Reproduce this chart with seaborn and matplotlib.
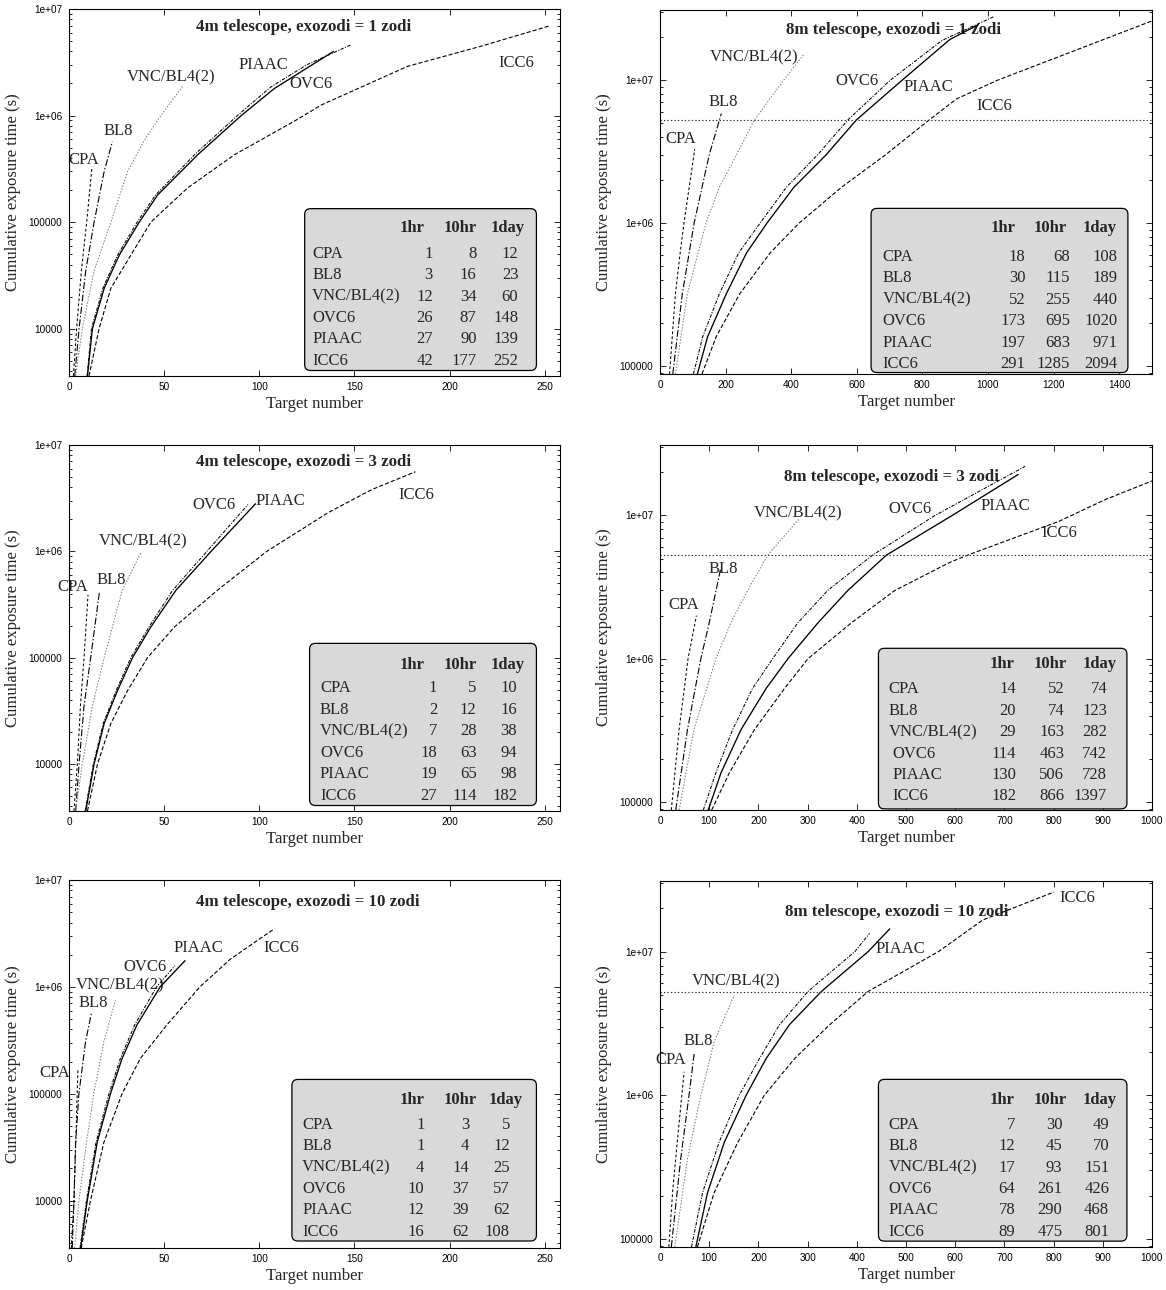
import matplotlib
matplotlib.use("Agg")
import matplotlib.pyplot as plt
from matplotlib.patches import FancyBboxPatch
from matplotlib.ticker import FixedLocator, LogLocator, NullFormatter, FuncFormatter
import seaborn as sns

methods = ["CPA", "BL8", "VNC/BL4(2)", "OVC6", "PIAAC", "ICC6"]
columns = ["1hr", "10hr", "1day"]

# cumulative exposure time (s) against target number
curves_4m_1 = {
    "CPA": ([2.3, 4.0, 6.5, 9.3, 12], [3.6e3, 1e4, 3.5e4, 1e5, 3.2e5]),
    "BL8": ([3, 5.3, 8.8, 13.2, 18.5, 22.8], [3.6e3, 1e4, 3.5e4, 1e5, 3.0e5, 5.7e5]),
    "VNC/BL4(2)": ([3.5, 7, 13.2, 22, 30.8, 40.4, 48.3, 59.8], [3.6e3, 1e4, 3.5e4, 1e5, 3.0e5, 6.2e5, 1e6, 1.89e6]),
    "OVC6": ([9.5, 11.8, 17.8, 25.5, 35.8, 45.5, 66, 88.5, 106, 125, 148], [3.6e3, 1e4, 2.4e4, 4.9e4, 1e5, 1.8e5, 4.3e5, 1e6, 1.85e6, 3.0e6, 4.6e6]),
    "PIAAC": ([9.7, 12.3, 18.5, 26.4, 36.9, 46.6, 67.7, 90.5, 108, 139], [3.6e3, 1e4, 2.4e4, 4.9e4, 1e5, 1.8e5, 4.3e5, 1e6, 1.8e6, 4.0e6]),
    "ICC6": ([10.5, 15.8, 22, 32.5, 43, 62.4, 87, 118.6, 132.7, 178, 217, 252], [3.6e3, 1e4, 2.4e4, 4.9e4, 1e5, 2.1e5, 4.3e5, 8.9e5, 1.26e6, 2.9e6, 4.5e6, 6.9e6]),
}
curves_8m_1 = {
    "CPA": ([29, 47, 60, 73, 106], [8.8e4, 3.2e5, 5.8e5, 1e6, 3.3e6]),
    "BL8": ([39, 68, 104, 150, 187], [8.8e4, 3.2e5, 1e6, 3.0e6, 5.85e6]),
    "VNC/BL4(2)": ([47, 83.5, 140, 181, 233, 288, 377, 440], [8.8e4, 3.2e5, 1e6, 1.78e6, 3.0e6, 5.28e6, 1e7, 1.53e7]),
    "OVC6": ([102, 130, 181, 240, 305, 385, 480, 573, 702, 860, 1020], [8.8e4, 1.6e5, 3.2e5, 6.2e5, 1e6, 1.78e6, 3.0e6, 5.28e6, 1e7, 1.9e7, 2.8e7]),
    "PIAAC": ([114, 145, 202, 264, 326, 408, 506, 599, 738, 884, 971], [8.8e4, 1.6e5, 3.2e5, 6.2e5, 1e6, 1.78e6, 3.0e6, 5.28e6, 1e7, 1.93e7, 2.45e7]),
    "ICC6": ([128, 171, 243, 336, 424, 553, 687, 821, 904, 1029, 1267, 1500], [8.8e4, 1.6e5, 3.2e5, 6.2e5, 1e6, 1.78e6, 3.0e6, 5.28e6, 7.4e6, 1e7, 1.62e7, 2.6e7]),
}
curves_4m_3 = {
    "CPA": ([2.6, 4.4, 6, 7.9, 10], [3.6e3, 1e4, 3.5e4, 1e5, 3.9e5]),
    "BL8": ([3.5, 5.3, 7.9, 11.4, 16], [3.6e3, 1e4, 3.5e4, 1e5, 4.15e5]),
    "VNC/BL4(2)": ([3.5, 7, 12.3, 18.5, 22.8, 28, 38], [3.6e3, 1e4, 3.5e4, 1e5, 1.94e5, 4.3e5, 9.9e5]),
    "OVC6": ([8.5, 12.8, 18, 24.8, 32.5, 42, 54.5, 72.5, 94], [3.6e3, 1e4, 2.4e4, 4.9e4, 1e5, 1.94e5, 4.3e5, 1e6, 2.75e6]),
    "PIAAC": ([8.8, 13.2, 18.5, 25.5, 33.4, 43, 56.2, 74.7, 98], [3.6e3, 1e4, 2.4e4, 4.9e4, 1e5, 1.94e5, 4.3e5, 1e6, 2.8e6]),
    "ICC6": ([9.7, 15, 22, 30.8, 41.3, 55.4, 78, 104, 136, 159, 182], [3.6e3, 1e4, 2.4e4, 4.9e4, 1e5, 1.94e5, 4.3e5, 1e6, 2.3e6, 3.8e6, 5.6e6]),
}
curves_8m_3 = {
    "CPA": ([23, 38.8, 57, 74], [8.8e4, 3.2e5, 1e6, 2.0e6]),
    "BL8": ([32, 55.8, 83, 100, 123], [8.8e4, 3.2e5, 1e6, 1.78e6, 4.2e6]),
    "VNC/BL4(2)": ([39, 69, 113.6, 144, 178, 219, 282], [8.8e4, 3.2e5, 1e6, 1.78e6, 3.0e6, 5.28e6, 9.4e6]),
    "OVC6": ([88, 113.6, 147.6, 188, 229, 280, 341, 432, 559, 742], [8.8e4, 1.6e5, 3.2e5, 6.2e5, 1e6, 1.78e6, 3.0e6, 5.28e6, 1e7, 2.2e7]),
    "PIAAC": ([98, 124, 164.6, 215.6, 260, 321, 382, 460, 594, 728], [8.8e4, 1.6e5, 3.2e5, 6.2e5, 1e6, 1.78e6, 3.0e6, 5.28e6, 1e7, 1.93e7]),
    "ICC6": ([105, 141, 192, 253, 300.7, 389, 477.6, 589, 625, 811, 905, 1000], [8.8e4, 1.6e5, 3.2e5, 6.2e5, 1e6, 1.78e6, 3.0e6, 4.7e6, 5.28e6, 9.1e6, 1.29e7, 1.74e7]),
}
curves_4m_10 = {
    "CPA": ([1.2, 2.6, 3.8, 4.7], [3.6e3, 1e4, 5e4, 1.7e5]),
    "BL8": ([1.7, 2.6, 3.5, 5.2, 8.7, 11.8], [3.6e3, 1e4, 3.5e4, 1e5, 3.07e5, 5.7e5]),
    "VNC/BL4(2)": ([3, 5.2, 9.2, 13, 18.3, 24.4], [3.6e3, 1e4, 3.5e4, 1e5, 3.07e5, 7.5e5]),
    "OVC6": ([5.8, 9.2, 14.2, 21, 27, 34.5, 46, 55.7], [3.6e3, 1e4, 3.5e4, 1e5, 2.14e5, 4.4e5, 1e6, 1.58e6]),
    "PIAAC": ([6.1, 9.6, 14.8, 21.8, 27.9, 35.7, 47.9, 61], [3.6e3, 1e4, 3.5e4, 1e5, 2.14e5, 4.4e5, 1e6, 1.76e6]),
    "ICC6": ([6.4, 11.3, 18.3, 27.9, 37.5, 51.4, 68.8, 84.5, 100, 108], [3.6e3, 1e4, 3.5e4, 1e5, 2.14e5, 4.4e5, 1e6, 1.8e6, 2.8e6, 3.5e6]),
}
curves_8m_10 = {
    "CPA": ([18, 26, 35, 49], [8.8e4, 2.2e5, 4.7e5, 1.46e6]),
    "BL8": ([23, 42, 59, 69.4], [8.8e4, 3.6e5, 1e6, 1.95e6]),
    "VNC/BL4(2)": ([30, 55.8, 83, 110, 151], [8.8e4, 3.6e5, 1e6, 2.35e6, 5.0e6]),
    "OVC6": ([64, 86.4, 120, 161, 202, 243, 300.7, 396, 426], [8.8e4, 2.1e5, 4.7e5, 1e6, 1.8e6, 3.1e6, 5.28e6, 1e7, 1.34e7]),
    "PIAAC": ([72.8, 96.6, 130.6, 175, 215.6, 263, 328, 423, 467], [8.8e4, 2.1e5, 4.7e5, 1e6, 1.8e6, 3.1e6, 5.28e6, 1e7, 1.44e7]),
    "ICC6": ([76, 110, 158, 212, 273.5, 345, 423, 566, 656, 801], [8.8e4, 2.1e5, 4.7e5, 1e6, 1.8e6, 3.1e6, 5.28e6, 1e7, 1.66e7, 2.6e7]),
}

# number of targets reachable within 1hr / 10hr / 1day
table_4m_1 = [[1, 8, 12], [3, 16, 23], [12, 34, 60], [26, 87, 148], [27, 90, 139], [42, 177, 252]]
table_8m_1 = [[18, 68, 108], [30, 115, 189], [52, 255, 440], [173, 695, 1020], [197, 683, 971], [291, 1285, 2094]]
table_4m_3 = [[1, 5, 10], [2, 12, 16], [7, 28, 38], [18, 63, 94], [19, 65, 98], [27, 114, 182]]
table_8m_3 = [[14, 52, 74], [20, 74, 123], [29, 163, 282], [114, 463, 742], [130, 506, 728], [182, 866, 1397]]
table_4m_10 = [[1, 3, 5], [1, 4, 12], [4, 14, 25], [10, 37, 57], [12, 39, 62], [16, 62, 108]]
table_8m_10 = [[7, 30, 49], [12, 45, 70], [17, 93, 151], [64, 261, 426], [78, 290, 468], [89, 475, 801]]

# curve name labels (data coordinates)
labels_4m_1 = {"CPA": (8, 3.8e5), "BL8": (26, 7.2e5), "VNC/BL4(2)": (53.7, 2.28e6),
               "PIAAC": (102, 2.98e6), "OVC6": (127, 1.98e6), "ICC6": (235, 3.1e6)}
labels_8m_1 = {"CPA": (64.7, 3.9e6), "BL8": (192, 7.07e6), "VNC/BL4(2)": (286, 1.44e7),
               "OVC6": (601, 9.8e6), "PIAAC": (819, 8.9e6), "ICC6": (1018, 6.6e6)}
labels_4m_3 = {"CPA": (2, 4.6e5), "BL8": (22, 5.4e5), "VNC/BL4(2)": (38.8, 1.24e6),
               "OVC6": (76, 2.7e6), "PIAAC": (111, 3.0e6), "ICC6": (182.5, 3.4e6)}
labels_8m_3 = {"CPA": (49, 2.37e6), "BL8": (128.6, 4.2e6), "VNC/BL4(2)": (281, 1.04e7),
               "OVC6": (508, 1.1e7), "PIAAC": (701, 1.17e7), "ICC6": (811, 7.5e6)}
labels_4m_10 = {"CPA": (-7.6, 1.55e5), "BL8": (12.7, 7.1e5), "VNC/BL4(2)": (27, 1.04e6),
                "OVC6": (39.8, 1.55e6), "PIAAC": (68.2, 2.3e6), "ICC6": (111.8, 2.3e6)}
labels_8m_10 = {"CPA": (22, 1.77e6), "BL8": (77, 2.37e6), "VNC/BL4(2)": (155, 6.25e6),
                "PIAAC": (488, 1.05e7), "ICC6": (849, 2.37e7)}

two_months = 5.26e6

styles = {
    "CPA": dict(color="black", lw=0.75, dashes=(2.0, 1.6)),
    "BL8": dict(color="black", lw=0.8, dashes=(5, 1.5, 1, 1.5)),
    "VNC/BL4(2)": dict(color="#7a7a7a", lw=0.75, dashes=(1, 1.2)),
    "OVC6": dict(color="black", lw=0.75, dashes=(2.5, 1, 0.8, 1)),
    "PIAAC": dict(color="black", lw=0.95, dashes=None),
    "ICC6": dict(color="black", lw=0.8, dashes=(3, 1.5)),
}

panels = [
    dict(curves=curves_4m_1, table=table_4m_1, labels=labels_4m_1, title="4m telescope, exozodi = 1 zodi",
         rect=(69, 9, 560, 376), xlim=(0, 258), ylim=(3600, 1e7), xstep=50, hline=False,
         tpos=(0.478, 0.952), box=(0.48, 0.015, 0.952, 0.456), head_y=0.402, row_y=0.332, step=0.058,
         name_x=0.495, head_x=(0.699, 0.796, 0.894), num_r=(0.741, 0.83, 0.915), indent=0),
    dict(curves=curves_8m_1, table=table_8m_1, labels=labels_8m_1, title="8m telescope, exozodi = 1 zodi",
         rect=(660, 10, 1152, 374), xlim=(0, 1500), ylim=(8.8e4, 3.1e7), xstep=200, hline=True,
         tpos=(0.474, 0.945), box=(0.429, 0.004, 0.951, 0.455), head_y=0.40, row_y=0.322, step=0.059,
         name_x=0.452, head_x=(0.697, 0.794, 0.893), num_r=(0.743, 0.834, 0.930), indent=0),
    dict(curves=curves_4m_3, table=table_4m_3, labels=labels_4m_3, title="4m telescope, exozodi = 3 zodi",
         rect=(69, 445, 560, 811), xlim=(0, 258), ylim=(3600, 1e7), xstep=50, hline=False,
         tpos=(0.478, 0.953), box=(0.49, 0.015, 0.952, 0.458), head_y=0.40, row_y=0.335, step=0.0588,
         name_x=0.511, head_x=(0.699, 0.796, 0.893), num_r=(0.75, 0.83, 0.913), indent=0),
    dict(curves=curves_8m_3, table=table_8m_3, labels=labels_8m_3, title="8m telescope, exozodi = 3 zodi",
         rect=(660, 445, 1152, 810), xlim=(0, 1000), ylim=(8.8e4, 3.1e7), xstep=100, hline=True,
         tpos=(0.47, 0.913), box=(0.444, 0.003, 0.949, 0.443), head_y=0.399, row_y=0.331, step=0.0588,
         name_x=0.465, head_x=(0.696, 0.793, 0.893), num_r=(0.724, 0.822, 0.909), indent=0.008),
    dict(curves=curves_4m_10, table=table_4m_10, labels=labels_4m_10, title="4m telescope, exozodi = 10 zodi",
         rect=(69, 880, 560, 1248), xlim=(0, 258), ylim=(3600, 1e7), xstep=50, hline=False,
         tpos=(0.486, 0.939), box=(0.454, 0.019, 0.952, 0.458), head_y=0.402, row_y=0.334, step=0.058,
         name_x=0.475, head_x=(0.699, 0.796, 0.89), num_r=(0.724, 0.815, 0.898), indent=0),
    dict(curves=curves_8m_10, table=table_8m_10, labels=labels_8m_10, title="8m telescope, exozodi = 10 zodi",
         rect=(660, 881, 1152, 1247), xlim=(0, 1000), ylim=(8.8e4, 3.1e7), xstep=100, hline=True,
         tpos=(0.482, 0.914), box=(0.444, 0.016, 0.949, 0.458), head_y=0.401, row_y=0.333, step=0.0583,
         name_x=0.465, head_x=(0.696, 0.793, 0.893), num_r=(0.722, 0.818, 0.913), indent=0),
]

W, H = 1166, 1290
sns.set_style("ticks")
plt.rcParams["font.family"] = ["Liberation Serif", "DejaVu Serif"]
plt.rcParams["lines.scale_dashes"] = False

tick_names = {1e4: "10000", 1e5: "100000", 1e6: "1e+06", 1e7: "1e+07"}

fig = plt.figure(figsize=(W / 100, H / 100), dpi=100)

for p in panels:
    l, t, r, b = p["rect"]
    ax = fig.add_axes([l / W, 1 - b / H, (r - l) / W, (b - t) / H])
    ax.set_yscale("log")

    for name in methods:
        xs, ys = p["curves"][name]
        st = styles[name]
        sns.lineplot(x=xs, y=ys, ax=ax, color=st["color"], lw=st["lw"],
                     estimator=None, sort=False, zorder=2)
        if st["dashes"]:
            ax.lines[-1].set_dashes(st["dashes"])

    if p["hline"]:
        hl = ax.axhline(two_months, color="#333333", lw=0.8, zorder=2)
        hl.set_dashes((1, 1.5))

    ax.set_xlim(*p["xlim"])
    ax.set_ylim(*p["ylim"])
    ax.xaxis.set_major_locator(FixedLocator(list(range(0, int(p["xlim"][1]) + 1, p["xstep"]))))
    ax.yaxis.set_major_locator(FixedLocator([1e4, 1e5, 1e6, 1e7]))
    ax.yaxis.set_major_formatter(FuncFormatter(lambda v, pos: tick_names.get(v, "")))
    ax.yaxis.set_minor_locator(LogLocator(base=10, subs=range(2, 10)))
    ax.yaxis.set_minor_formatter(NullFormatter())
    ax.tick_params(which="both", direction="in", top=True, right=True, width=0.6,
                   labelsize=7.2, labelfontfamily="Liberation Sans", colors="black")
    ax.tick_params(which="major", length=4)
    ax.tick_params(which="minor", length=2)
    ax.tick_params(axis="y", pad=5)
    ax.tick_params(axis="x", pad=4)
    for s in ax.spines.values():
        s.set_linewidth(0.8)
        s.set_color("black")

    ax.set_xlabel("Target number", fontsize=12, labelpad=3)
    ax.set_ylabel("Cumulative exposure time (s)", fontsize=12, labelpad=5)

    ax.text(p["tpos"][0], p["tpos"][1], p["title"], transform=ax.transAxes, ha="center", va="center",
            fontsize=12.2, fontweight="bold", zorder=1)
    for name, (lx, ly) in p["labels"].items():
        ax.text(lx, ly, name, ha="center", va="center", fontsize=12, zorder=1, clip_on=False)

    # table of target counts
    x0, y0, x1, y1 = p["box"]
    aspect = (r - l) / (b - t)
    ax.add_patch(FancyBboxPatch((x0, y0), x1 - x0, y1 - y0, transform=ax.transAxes,
                                boxstyle="round,pad=0,rounding_size=0.012", mutation_aspect=aspect,
                                facecolor="#d9d9d9", edgecolor="black", lw=0.9, zorder=3))
    for hx, col in zip(p["head_x"], columns):
        ax.text(hx, p["head_y"], col, transform=ax.transAxes, ha="center", va="center",
                fontsize=12, fontweight="bold", zorder=4)
    for i, name in enumerate(methods):
        yy = p["row_y"] - i * p["step"]
        nx = p["name_x"] + (p["indent"] if i >= 3 else 0)
        ax.text(nx, yy, name, transform=ax.transAxes, ha="left", va="center", fontsize=12, zorder=4)
        for rx, v in zip(p["num_r"], p["table"][i]):
            ax.text(rx, yy, str(v), transform=ax.transAxes, ha="right", va="center", fontsize=12, zorder=4)

fig.savefig("out.png", dpi=100)
